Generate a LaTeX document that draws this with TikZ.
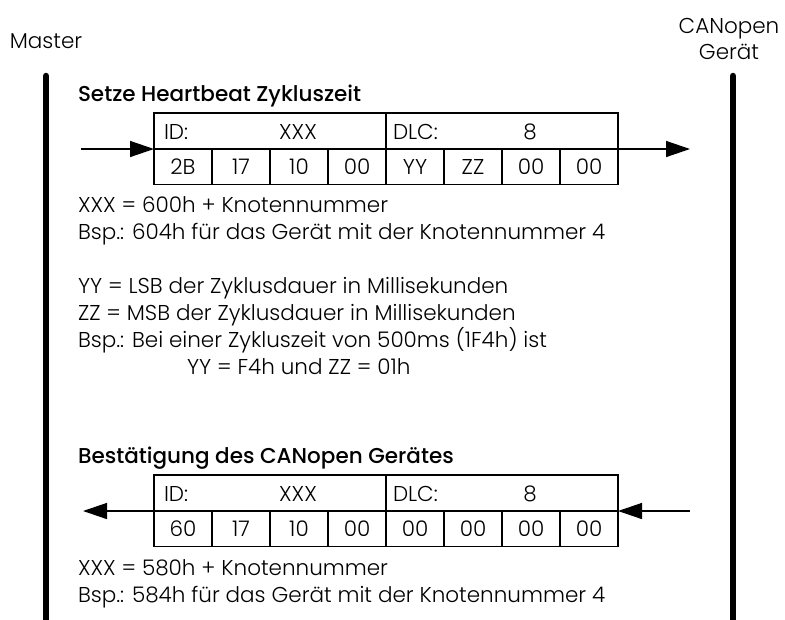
\documentclass[tikz,border=0pt]{standalone}
\usepackage{fontspec}
\setmainfont{Poppins}[UprightFont=* Light, BoldFont=* Medium]
\usetikzlibrary{arrows.meta}
\begin{document}
\begin{tikzpicture}[x=1pt,y=-1pt,
  every node/.style={inner sep=0pt, outer sep=0pt},
  body/.style={font=\fontsize{21.5}{24}\selectfont},
  head/.style={font=\fontsize{21.5}{24}\selectfont\bfseries},
  cell/.style={draw, line width=1.4pt, minimum width=58pt, minimum height=35.5pt, anchor=north west, font=\fontsize{21.5}{24}\selectfont},
  wide/.style={cell, minimum width=232pt},
  msg/.style={line width=1.4pt, -{Triangle[length=24pt,width=16pt]}},
  life/.style={line width=6.5pt, line cap=round}]
\useasboundingbox (0,0) rectangle (785,619);
% participants
\node[body, anchor=base] (master) at (46,48) {Master};
\node[body, anchor=base] (can1) at (729,33) {CANopen};
\node[body, anchor=base] (can2) at (729,59) {Gerät};
\coordinate (lt) at (46,76);
\coordinate (lb) at (46,640);
\coordinate (rt) at (733,76);
\coordinate (rb) at (733,640);
\draw[life] (lt) -- (lb);
\draw[life] (rt) -- (rb);
% message 1
\node[head, anchor=base west] (title1) at (78,101) {Setze Heartbeat Zykluszeit};
\node[wide] (t1id) at (154,113) {};
\node[wide] (t1dlc) at (386,113) {};
\node[body, anchor=base west] (t1idl) at (164,139) {ID:};
\node[body, anchor=base] (t1idv) at (298,139) {XXX};
\node[body, anchor=base west] (t1dlcl) at (393,139) {DLC:};
\node[body, anchor=base] (t1dlcv) at (530,139) {8};
\node[cell] (t1c1) at (154,149) {2B};
\node[cell] (t1c2) at (212,149) {17};
\node[cell] (t1c3) at (270,149) {10};
\node[cell] (t1c4) at (328,149) {00};
\node[cell] (t1c5) at (386,149) {YY};
\node[cell] (t1c6) at (444,149) {ZZ};
\node[cell] (t1c7) at (502,149) {00};
\node[cell] (t1c8) at (560,149) {00};
\coordinate (a1s) at (81,149);
\coordinate (a2e) at (690,149);
\draw[msg] (a1s) -- (t1c1.north west);
\draw[msg] (t1c8.north east) -- (a2e);
\node[body, anchor=base west] (n1) at (78,212) {XXX = 600h + Knotennummer};
\node[body, anchor=base west] (n2) at (78,239) {Bsp.: 604h für das Gerät mit der Knotennummer 4};
\node[body, anchor=base west] (n3) at (78,293) {YY = LSB der Zyklusdauer in Millisekunden};
\node[body, anchor=base west] (n4) at (78,320) {ZZ = MSB der Zyklusdauer in Millisekunden};
\node[body, anchor=base west] (n5) at (78,347) {Bsp.: Bei einer Zykluszeit von 500ms (1F4h) ist};
\node[body, anchor=base west] (n6) at (187,374) {YY = F4h und ZZ = 01h};
% message 2
\node[head, anchor=base west] (title2) at (78,463) {Bestätigung des CANopen Gerätes};
\node[wide] (t2id) at (154,475) {};
\node[wide] (t2dlc) at (386,475) {};
\node[body, anchor=base west] (t2idl) at (164,501) {ID:};
\node[body, anchor=base] (t2idv) at (298,501) {XXX};
\node[body, anchor=base west] (t2dlcl) at (393,501) {DLC:};
\node[body, anchor=base] (t2dlcv) at (530,501) {8};
\node[cell] (t2c1) at (154,511) {60};
\node[cell] (t2c2) at (212,511) {17};
\node[cell] (t2c3) at (270,511) {10};
\node[cell] (t2c4) at (328,511) {00};
\node[cell] (t2c5) at (386,511) {00};
\node[cell] (t2c6) at (444,511) {00};
\node[cell] (t2c7) at (502,511) {00};
\node[cell] (t2c8) at (560,511) {00};
\coordinate (a3e) at (83,511);
\coordinate (a4s) at (690,511);
\draw[msg] (t2c1.north west) -- (a3e);
\draw[msg] (a4s) -- (t2c8.north east);
\node[body, anchor=base west] (m1) at (78,575) {XXX = 580h + Knotennummer};
\node[body, anchor=base west] (m2) at (78,602) {Bsp.: 584h für das Gerät mit der Knotennummer 4};
\end{tikzpicture}
\end{document}
